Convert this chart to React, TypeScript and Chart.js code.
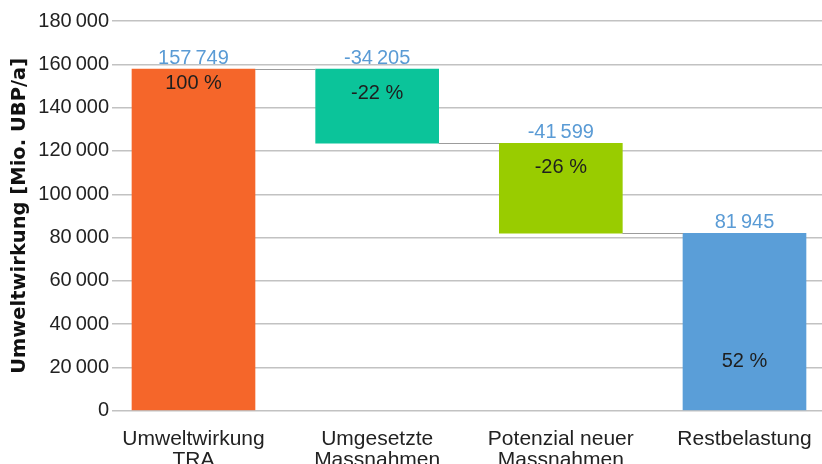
import React, { useEffect, useRef } from 'react';
import { Chart, registerables } from 'chart.js';

Chart.register(...registerables);

// ---- data ----
const categories: string[][] = [
  ['Umweltwirkung', 'TRA'],
  ['Umgesetzte', 'Massnahmen'],
  ['Potenzial neuer', 'Massnahmen'],
  ['Restbelastung'],
];
const stepValues: number[] = [157749, -34205, -41599, 81945];
const stepKinds: string[] = ['total', 'delta', 'delta', 'total'];
const barColors: string[] = ['#F5662A', '#0BC49A', '#99CC00', '#5A9ED8'];
const yAxisTitle = 'Umweltwirkung [Mio. UBP/a]';
const yMin = 0;
const yMax = 180000;
const yStep = 20000;

const THIN = '\u2009';
function fmt(n: number): string {
  const s = Math.round(Math.abs(n)).toString();
  const grouped = s.replace(/\B(?=(\d{3})+(?!\d))/g, THIN);
  return (n < 0 ? '-' : '') + grouped;
}

// running totals -> floating ranges
function buildRanges() {
  let running = 0;
  const ranges: number[][] = [];
  const levels: number[] = [];
  stepValues.forEach((v, i) => {
    if (stepKinds[i] === 'total') {
      ranges.push([0, v]);
      running = v;
    } else {
      ranges.push([running + v, running]);
      running = running + v;
    }
    levels.push(running);
  });
  return { ranges, levels };
}

const SANS = '"Liberation Sans", Arial, Helvetica, sans-serif';

export default function App() {
  const ref = useRef<HTMLCanvasElement | null>(null);

  useEffect(() => {
    document.body.style.margin = '0';
    const canvas = ref.current;
    if (!canvas) return;
    const { ranges, levels } = buildRanges();
    const base = stepValues[0];

    const pctPlacement = [
      { edge: 'top', dy: 20 },
      { edge: 'top', dy: 30 },
      { edge: 'top', dy: 30 },
      { edge: 'bottom', dy: -43 },
    ];

    const waterfallPlugin = {
      id: 'waterfallDecor',
      afterDatasetsDraw(chart: any) {
        const ctx = chart.ctx as CanvasRenderingContext2D;
        const meta = chart.getDatasetMeta(0);
        const yScale = chart.scales.y;
        const bars = meta.data.map((el: any) => el.getProps(['x', 'y', 'base', 'width'], true));
        ctx.save();
        // connectors
        ctx.strokeStyle = '#9C9C9C';
        ctx.lineWidth = 1;
        for (let i = 0; i < bars.length - 1; i++) {
          const yPix = Math.round(yScale.getPixelForValue(levels[i])) + 0.5;
          const x1 = bars[i].x + bars[i].width / 2;
          const x2 = bars[i + 1].x - bars[i + 1].width / 2;
          ctx.beginPath();
          ctx.moveTo(x1, yPix);
          ctx.lineTo(x2, yPix);
          ctx.stroke();
        }
        // labels
        ctx.font = `20px ${SANS}`;
        ctx.textAlign = 'center';
        ctx.textBaseline = 'alphabetic';
        bars.forEach((b: any, i: number) => {
          const top = Math.min(b.y, b.base);
          const bottom = Math.max(b.y, b.base);
          ctx.fillStyle = '#5A9BD5';
          ctx.fillText(fmt(stepValues[i]), b.x, top - 5);
          const pct = Math.round((stepValues[i] / base) * 100) + ' %';
          const p = pctPlacement[i];
          const yy = p.edge === 'top' ? top + p.dy : bottom + p.dy;
          ctx.fillStyle = '#1E1E1E';
          ctx.fillText(pct, b.x, yy);
        });
        ctx.restore();
      },
    };

    const chart = new Chart(canvas, {
      type: 'bar',
      data: {
        datasets: [
          {
            data: ranges.map((r, i) => ({ x: i, y: r })) as any,
            backgroundColor: barColors,
            borderWidth: 0,
            barThickness: 123,
          },
        ],
      },
      options: {
        animation: false,
        responsive: false,
        maintainAspectRatio: false,
        devicePixelRatio: 1,
        layout: { padding: { top: 21, right: 0, left: 0, bottom: 0 } },
        plugins: {
          legend: { display: false },
          tooltip: { enabled: false },
          title: { display: false },
        },
        scales: {
          x: {
            type: 'linear',
            min: -0.4437,
            max: 3.422,
            offset: false,
            grid: { display: false, offset: false },
            border: { display: false },
            afterFit: (scale: any) => {
              scale.height = 53.3;
              scale.paddingLeft = 0;
              scale.paddingRight = 0;
            },
            ticks: {
              stepSize: 1,
              includeBounds: false,
              autoSkip: false,
              maxRotation: 0,
              minRotation: 0,
              padding: 10,
              color: '#222222',
              font: { family: SANS, size: 21, lineHeight: 1.0 },
              callback: (v: any) => {
                const idx = Math.round(Number(v));
                if (Math.abs(Number(v) - idx) > 1e-6) return '';
                return categories[idx] ?? '';
              },
            },
          },
          y: {
            type: 'linear',
            min: yMin,
            max: yMax,
            afterFit: (scale: any) => {
              scale.width = 112;
            },
            grid: {
              color: '#C2C2C2',
              lineWidth: 1.4,
              drawTicks: false,
            },
            border: { display: false },
            ticks: {
              stepSize: yStep,
              padding: 3,
              color: '#222222',
              font: { family: SANS, size: 20 },
              callback: (v: any) => fmt(Number(v)),
            },
            title: {
              display: true,
              text: yAxisTitle,
              color: '#111111',
              padding: { top: 8, bottom: 0 },
              font: { family: '"DejaVu Sans", sans-serif', size: 19.5, weight: 'bold' },
            },
          },
        },
      } as any,
      plugins: [waterfallPlugin],
    });

    return () => chart.destroy();
  }, []);

  return (
    <div style={{ width: 822, height: 464, overflow: 'hidden', background: '#ffffff' }}>
      <canvas ref={ref} width={822} height={464} style={{ display: 'block' }} />
    </div>
  );
}
